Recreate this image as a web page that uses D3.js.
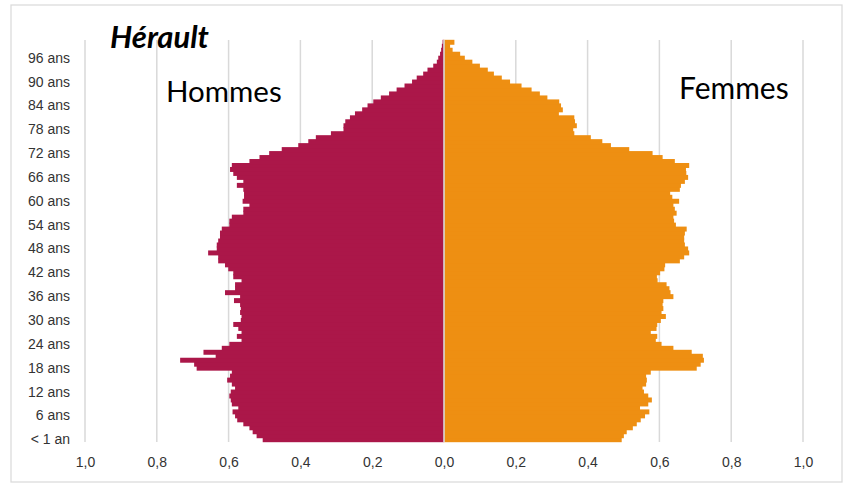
<!DOCTYPE html>
<html>
<head>
<meta charset="utf-8">
<script src="https://cdn.jsdelivr.net/npm/d3@7"></script>
<style>
  body { margin: 0; background: #fff; }
  svg { font-family: Lato, "Open Sans", sans-serif; }
</style>
</head>
<body>
<svg></svg>
<script>
// âges 0 à 100
let ages = d3.range(0, 101);

// part de la population (%) par âge, de 0 à 100 ans
let hommes = [
  0.505, 0.522, 0.533, 0.542, 0.559, 0.576, 0.582, 0.589, 0.573, 0.591,
  0.594, 0.598, 0.594, 0.582, 0.591, 0.604, 0.596, 0.591, 0.689, 0.696,
  0.735, 0.636, 0.670, 0.619, 0.598, 0.564, 0.577, 0.564, 0.573, 0.587,
  0.566, 0.564, 0.568, 0.566, 0.568, 0.585, 0.568, 0.610, 0.582, 0.582,
  0.564, 0.587, 0.587, 0.601, 0.610, 0.629, 0.629, 0.657, 0.633, 0.633,
  0.629, 0.624, 0.624, 0.619, 0.598, 0.598, 0.591, 0.559, 0.559, 0.542,
  0.561, 0.557, 0.557, 0.559, 0.577, 0.559, 0.577, 0.587, 0.596, 0.591,
  0.542, 0.514, 0.487, 0.452, 0.406, 0.378, 0.357, 0.315, 0.280, 0.280,
  0.275, 0.262, 0.248, 0.228, 0.213, 0.197, 0.176, 0.153, 0.132, 0.110,
  0.089, 0.076, 0.058, 0.046, 0.030, 0.020, 0.016, 0.011, 0.008, 0.006,
  0.004
];

let femmes = [
  0.495, 0.501, 0.509, 0.526, 0.537, 0.548, 0.560, 0.572, 0.546, 0.569,
  0.579, 0.569, 0.557, 0.553, 0.563, 0.565, 0.563, 0.576, 0.704, 0.715,
  0.724, 0.721, 0.690, 0.639, 0.606, 0.590, 0.594, 0.576, 0.592, 0.594,
  0.604, 0.618, 0.606, 0.611, 0.609, 0.611, 0.639, 0.631, 0.628, 0.620,
  0.595, 0.593, 0.602, 0.614, 0.616, 0.657, 0.669, 0.683, 0.680, 0.671,
  0.669, 0.669, 0.671, 0.676, 0.646, 0.641, 0.639, 0.648, 0.643, 0.639,
  0.655, 0.636, 0.630, 0.657, 0.660, 0.671, 0.680, 0.675, 0.674, 0.683,
  0.643, 0.609, 0.581, 0.516, 0.465, 0.441, 0.409, 0.363, 0.360, 0.370,
  0.365, 0.363, 0.320, 0.331, 0.326, 0.321, 0.288, 0.267, 0.244, 0.216,
  0.184, 0.161, 0.139, 0.122, 0.100, 0.079, 0.058, 0.045, 0.024, 0.017,
  0.029
];

let xTicks = [-1, -0.8, -0.6, -0.4, -0.2, 0, 0.2, 0.4, 0.6, 0.8, 1];
let yTicks = [0, 6, 12, 18, 24, 30, 36, 42, 48, 54, 60, 66, 72, 78, 84, 90, 96];

let width = 848;
let height = 484;

let svg = d3.select("svg")
  .attr("width", width)
  .attr("height", height);

let xScale = d3.scaleLinear().domain([-1, 1]).range([85, 803]);
let yScale = d3.scaleBand().domain(ages.slice().reverse()).range([40.3, 441.7]).padding(0);

const fmt = (v) => Math.abs(v).toFixed(1).replace(".", ",");
const ageLabel = (a) => a === 0 ? "< 1 an" : a + " ans";

// cadre
svg.append("rect")
  .attr("x", 11).attr("y", 5)
  .attr("width", 831).attr("height", 477)
  .attr("fill", "none")
  .attr("stroke", "#d9d9d9")
  .attr("stroke-width", 1.2);

// grille verticale
svg.append("g")
  .selectAll("line")
  .data(xTicks.filter(d => d !== 0))
  .enter()
  .append("line")
  .attr("x1", d => xScale(d)).attr("x2", d => xScale(d))
  .attr("y1", 40).attr("y2", 442)
  .attr("stroke", "#d9d9d9")
  .attr("stroke-width", 1.5);

// barres hommes (à gauche) - léger chevauchement pour éviter les filets blancs
svg.append("g")
  .selectAll("rect")
  .data(ages)
  .enter()
  .append("rect")
  .attr("x", a => xScale(-hommes[a]))
  .attr("y", a => yScale(a) - 0.5)
  .attr("width", a => xScale(0) - xScale(-hommes[a]))
  .attr("height", yScale.bandwidth() + 1)
  .attr("fill", "#ab1749");

// barres femmes (à droite)
svg.append("g")
  .selectAll("rect")
  .data(ages)
  .enter()
  .append("rect")
  .attr("x", xScale(0))
  .attr("y", a => yScale(a) - 0.5)
  .attr("width", a => xScale(femmes[a]) - xScale(0))
  .attr("height", yScale.bandwidth() + 1)
  .attr("fill", "#ee8f12");

// axe central
svg.append("line")
  .attr("x1", xScale(0)).attr("x2", xScale(0))
  .attr("y1", 40).attr("y2", 442)
  .attr("stroke", "#d9d9d9")
  .attr("stroke-width", 1.6);

// axe x
let xAxis = d3.axisBottom(xScale).tickValues(xTicks).tickFormat(fmt).tickSize(0).tickPadding(0);
let gx = svg.append("g")
  .attr("transform", "translate(0, 457)")
  .call(xAxis);
gx.select(".domain").remove();
gx.selectAll("text")
  .attr("font-size", 14)
  .attr("fill", "#333");

// axe y
let yAxis = d3.axisLeft(yScale).tickValues(yTicks).tickFormat(ageLabel).tickSize(0).tickPadding(0);
let gy = svg.append("g")
  .attr("transform", "translate(70, 0)")
  .call(yAxis);
gy.select(".domain").remove();
gy.selectAll("text")
  .attr("font-size", 14)
  .attr("fill", "#333");

// titres
svg.append("text")
  .attr("x", 110).attr("y", 48)
  .attr("font-size", 31)
  .attr("font-weight", "bold")
  .attr("font-style", "italic")
  .attr("fill", "#000")
  .text("Hérault");

svg.append("text")
  .attr("x", 166).attr("y", 102)
  .attr("font-size", 29.5)
  .attr("fill", "#000")
  .text("Hommes");

svg.append("text")
  .attr("x", 679).attr("y", 99)
  .attr("font-size", 30)
  .attr("fill", "#000")
  .text("Femmes");
</script>
</body>
</html>
